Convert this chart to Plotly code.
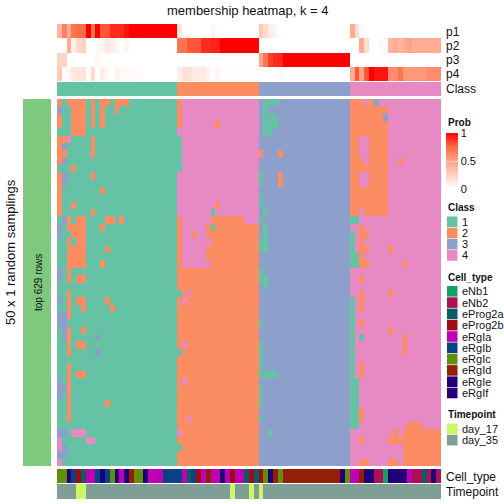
import plotly.graph_objects as go

W = 504
n_cols = 80
n_rows = 50

title = "membership heatmap, k = 4"
class_names = ["1", "2", "3", "4"]
class_colors = ["#66C2A5", "#FC8D62", "#8DA0CB", "#E78AC3"]
cell_types = ["eNb1", "eNb2", "eProg2a", "eProg2b", "eRgIa", "eRgIb", "eRgIc", "eRgId", "eRgIe", "eRgIf"]
cell_colors = ["#169F68", "#AE1056", "#0A5C66", "#A00A14", "#BF00B5", "#0A4285", "#628F08", "#941E0A", "#1E0078", "#270078"]
time_names = ["day_17", "day_35"]
time_colors = ["#CCF763", "#7F9E96"]

# top annotation: probability per column
p1 = [.4,.65,.45,.7,.75,.75,1,.7,1,.8,.8,.9,.9,.9,.95] + [1]*10 + [.15,0,0,0,0,0,0,.05] + [0]*9 + \
     [.3,.2,.1,.05] + [0]*15 + [.45,.18,.03] + [0]*16
p2 = [0,0,.45,.08,.2,.25,0,0,.03,.06,.12,.1,.05,0,.05] + [0]*10 + \
     [.7,.72,.8,.8,.8,.9,.9,.92,.92,1,1,1,1,1,1,1,1] + [0]*19 + \
     [0,0,.45,.18,0,0,.03,.03,.4,.45,.4,.45,.5,.45,.45,.45,.45,.45,.45]
p3 = [.25,.25,0,0,0,0,0,0,.04] + [0]*16 + [0]*17 + \
     [.5,.7,.85,.9,.9] + [1]*14 + [0,0,0,0,0,0,.02,0,.02] + [0]*10
p4 = [.3,.02,.05,.12,.15,.15,.02,.2,0,.1,.03,0,.07,.03,.03] + [.02]*3 + [0]*7 + \
     [.1,.17,.17,.12,.12,.12,.06,0,.05] + [.01]*8 + [0,0,0,0,.04] + [0]*14 + \
     [.45,.8,.5,.8,1,.95,.95,.95,.6,.6,.7,.55,.55,.55,.55,.55,.6,.6,.6]
column_class = [1]*25 + [2]*17 + [3]*19 + [4]*19

# membership matrix: per block, default class and exceptions {row: [(first, last, class)]}
block1_exceptions = {
    0:[(0,0,2),(2,5,2),(7,7,2),(9,10,2),(12,14,2)], 1:[(0,0,3),(3,5,2),(7,7,2),(9,9,2),(12,12,2)],
    2:[(0,0,2),(3,5,2),(7,7,2),(9,9,2)], 3:[(0,0,2),(3,5,2),(7,7,2),(9,9,2)], 4:[(3,5,2)],
    5:[(0,1,2),(2,2,4),(7,7,2)], 6:[(0,0,2),(1,1,3),(7,7,2)], 7:[(0,1,2),(7,7,2)], 8:[(0,0,2),(1,1,3)],
    9:[(3,3,2)], 10:[(0,0,2),(1,1,3),(7,7,2)], 11:[(0,0,2),(1,1,3)], 12:[(0,0,2),(9,9,2)], 13:[(0,0,2)],
    14:[(0,0,2),(3,3,2)], 15:[(0,0,2),(7,7,2)], 16:[(1,1,3),(2,2,2),(4,5,2),(10,11,2),(13,13,2)],
    17:[(0,0,3),(2,5,2),(9,9,2)], 18:[(0,0,3),(3,5,2)], 19:[(2,2,2),(4,5,2)], 20:[(2,5,2),(10,10,2)],
    21:[(2,5,2)], 22:[(2,5,2),(9,9,2)], 23:[(0,0,3),(2,2,2)], 24:[(0,0,3),(2,2,2),(4,5,2)],
    26:[(2,2,2)], 27:[(0,0,3),(2,2,2),(4,5,2),(10,10,2)], 28:[(2,2,2),(5,5,2),(11,11,2)],
    29:[(0,1,3),(2,2,2)], 30:[(0,1,3)], 31:[(1,1,3),(2,2,2),(5,5,2)], 32:[(1,1,3),(2,2,2),(8,8,3)],
    33:[(2,2,2),(4,5,2)], 34:[(2,2,2),(8,8,3)], 36:[(2,2,2)], 37:[(2,2,2),(4,5,2)],
    38:[(0,0,3),(2,2,2)], 39:[(0,1,3),(2,2,2)], 40:[(0,0,3),(2,2,2)], 41:[(2,2,2),(10,10,2)],
    42:[(2,2,2)], 43:[(2,2,2)], 45:[(0,1,3),(3,5,4)], 46:[(0,0,4),(6,7,4)], 47:[(0,0,4),(1,1,3)],
    48:[(0,1,3)], 49:[(0,0,4)],
}
block2_exceptions = {
    0:[(25,25,2)], 1:[(25,25,2)], 2:[(25,25,2)], 3:[(25,25,2),(33,33,2)],
    5:[(25,25,1)], 6:[(25,25,1)], 7:[(25,25,1)], 8:[(25,25,1)], 9:[(25,25,1)],
    14:[(33,33,2)], 15:[(32,32,1)], 16:[(25,25,2),(32,38,2)], 17:[(25,25,2),(31,31,2),(32,32,1),(33,41,2)],
    18:[(25,25,2),(28,28,2),(31,41,2)], 19:[(25,25,2),(32,41,2)], 20:[(25,25,2),(31,41,2)],
    21:[(25,25,2),(31,41,2)], 22:[(25,25,2),(32,41,2)],
    **{r:[(25,41,2)] for r in (23,24,25,28,29,30,31,32,35,36,37,39,40,41,42,44,46,48,49)},
    26:[(25,41,2),(25,25,1),(27,27,4)], 27:[(25,41,2),(26,26,4)], 33:[(25,41,2),(26,26,4)],
    34:[(25,41,2),(25,25,1)], 38:[(25,41,2),(26,26,4)], 43:[(25,41,2),(27,27,4)],
    45:[(25,41,2),(25,25,4)], 47:[(25,41,2),(25,25,1)],
}
block3_exceptions = {
    0:[(43,45,1)], 1:[(43,43,1)], 2:[(43,45,1)], 3:[(43,45,1)], 4:[(43,44,1)], 7:[(42,42,2),(46,46,2)],
    10:[(42,42,1),(46,46,2)], 11:[(42,42,1),(46,46,2)], 13:[(42,42,1)], 14:[(42,42,1)], 15:[(43,43,1)],
    16:[(42,42,1)], 17:[(43,43,1)], 18:[(43,43,1)], 19:[(42,43,1)], 20:[(42,43,1)], 23:[(42,42,1)],
    24:[(42,43,1)], 25:[(43,43,1)], 30:[(42,42,1)], 33:[(42,42,1)], 34:[(42,42,1)], 35:[(42,42,1)],
    36:[(42,42,1)], 37:[(42,45,1)], 39:[(42,42,1)], 40:[(42,42,1)], 41:[(42,42,1)], 43:[(42,42,1)],
    45:[(44,44,1)],
}
block4_exceptions = {
    0:[(61,63,2),(65,65,2),(66,66,3)], 1:[(61,68,2)], 2:[(61,67,2),(68,68,3)], 3:[(61,68,2)], 4:[(61,68,2)],
    5:[(61,62,2),(65,68,2)], 6:[(61,62,2),(65,68,2)], 7:[(61,62,2),(65,68,2)],
    8:[(61,63,2),(65,68,2),(71,71,2)], 9:[(61,68,2)], 10:[(61,62,2),(65,68,2)], 11:[(61,62,2),(65,68,2)],
    12:[(61,68,2)], 13:[(61,68,2)], 14:[(61,68,2)], 15:[(61,62,2),(64,68,2)], 16:[(61,62,1)],
    17:[(63,63,2)], 18:[(61,61,1),(63,64,2)], 19:[(61,61,1),(63,63,2)], 20:[(61,61,1),(63,64,2),(69,69,2)],
    21:[(61,62,1),(63,63,2)], 22:[(61,62,1),(63,64,2),(72,72,2)], 24:[(63,63,2)],
    26:[(63,63,2),(69,69,2)], 27:[(61,61,1),(63,63,2)], 28:[(61,61,1),(63,63,2)], 29:[(61,61,1)],
    30:[(61,61,1),(63,63,2)], 31:[(61,61,1),(69,69,2)], 32:[(61,61,1),(63,63,1),(72,72,2)],
    33:[(61,61,1),(72,72,2)], 34:[(61,61,1),(72,72,2)], 35:[(61,61,1)], 36:[(61,61,1),(63,63,2)],
    37:[(61,61,1),(63,63,2)], 38:[(61,62,1)], 39:[(61,62,1)], 40:[(61,62,1)], 41:[(61,62,1)],
    42:[(61,62,1),(63,63,2)], 43:[(61,62,1),(63,63,2)], 44:[(61,62,1),(73,75,2)],
    45:[(70,70,2),(72,79,2)], 46:[(63,63,2),(69,79,2)], 47:[(72,79,2)], 48:[(72,79,2)],
    49:[(63,64,2),(69,70,2),(72,79,2)],
}
block_defaults = [(0, 24, 1), (25, 41, 4), (42, 60, 3), (61, 79, 4)]

cell_type_runs = [("eRgIc",2),("eRgIf",1),("eRgIb",1),("eProg2b",1),("eProg2a",1),("eRgIa",2),("eRgIb",1),
    ("eRgIe",1),("eRgIb",1),("eRgIc",1),("eRgIe",1),("eRgIa",1),("eRgIe",1),("eRgId",1),("eRgIc",2),("eRgIe",1),
    ("eRgIa",3),("eRgIb",4),("eRgIa",1),("eProg2a",1),("eRgIb",1),("eProg2b",1),("eRgIa",1),("eRgId",1),("eRgIa",2),
    ("eRgIe",1),("eRgIa",1),("eProg2b",1),("eRgIa",2),("eProg2a",1),("eProg2b",1),("eProg2a",1),("eProg2b",1),
    ("eRgIc",1),("eRgIe",1),("eRgId",1),("eRgIc",1),("eRgId",12),("eRgIe",1),("eRgIc",1),("eRgIa",2),("eRgId",1),
    ("eRgIe",2),("eNb2",2),("eNb1",1),("eRgIe",2),("eRgIf",2),("eRgIa",1),("eNb2",2),("eProg2a",1),("eNb2",1),
    ("eRgIe",1),("eNb2",1)]
day17_columns = [4, 5, 36, 40, 42]

# build matrices
matrix = []
for r in range(n_rows):
    row = [0] * n_cols
    for a, b, v in block_defaults:
        for c in range(a, b + 1):
            row[c] = v
    for ex in (block1_exceptions, block2_exceptions, block3_exceptions, block4_exceptions):
        for a, b, v in ex.get(r, []):
            for c in range(a, b + 1):
                row[c] = v
    matrix.append(row)
cell_row = []
for name, count in cell_type_runs:
    cell_row += [cell_types.index(name)] * count
time_row = [0 if c in day17_columns else 1 for c in range(n_cols)]


def discrete(colors):
    n = len(colors)
    out = []
    for i, col in enumerate(colors):
        out += [[i / n, col], [(i + 1) / n, col]]
    return out


def px_x(x):
    return x / W


def px_y(y):
    return 1 - y / W


prob_scale = [[0, "#FFFFFF"], [.25, "#FFD2C3"], [.5, "#FFA388"], [.75, "#FF6A47"], [1, "#FF0000"]]
cols = list(range(n_cols))
fig = go.Figure()
X0, X1 = 57, 441
panels = [(24, 81), (82, 96), (99, 466), (469, 483), (484, 499)]
layout_axes = {}
for i, (top, bottom) in enumerate(panels):
    s = "" if i == 0 else str(i + 1)
    layout_axes["xaxis" + s] = dict(domain=[px_x(X0), px_x(X1)], range=[-.5, n_cols - .5], visible=False, anchor="y" + s)
    layout_axes["yaxis" + s] = dict(domain=[px_y(bottom), px_y(top)], autorange="reversed", visible=False, anchor="x" + s)

fig.add_trace(go.Heatmap(z=[p1, p2, p3, p4], x=cols, y=[0, 1, 2, 3], colorscale=prob_scale, zmin=0, zmax=1,
    xaxis="x", yaxis="y", hoverinfo="skip",
    colorbar=dict(x=px_x(446), xanchor="left", y=px_y(133), yanchor="top", thicknessmode="pixels", thickness=12,
                  lenmode="pixels", len=56, outlinewidth=0, tickvals=[0, .5, 1], ticktext=["0", "0.5", "1"],
                  ticks="inside", ticklen=12, tickcolor="rgba(255,255,255,0.45)", xpad=0, ypad=0,
                  tickfont=dict(size=11, family="Liberation Sans", color="#111"))))
fig.add_trace(go.Heatmap(z=[column_class], x=cols, colorscale=discrete(class_colors), zmin=.5, zmax=4.5,
    xaxis="x2", yaxis="y2", showscale=False, hoverinfo="skip"))
fig.add_trace(go.Heatmap(z=matrix, x=cols, y=list(range(n_rows)), colorscale=discrete(class_colors), zmin=.5, zmax=4.5,
    xaxis="x3", yaxis="y3", showscale=False, hoverinfo="skip"))
fig.add_trace(go.Heatmap(z=[cell_row], x=cols, colorscale=discrete(cell_colors), zmin=-.5, zmax=9.5,
    xaxis="x4", yaxis="y4", showscale=False, hoverinfo="skip"))
fig.add_trace(go.Heatmap(z=[time_row], x=cols, colorscale=discrete(time_colors), zmin=-.5, zmax=1.5,
    xaxis="x5", yaxis="y5", showscale=False, hoverinfo="skip"))

FONT = "Liberation Sans"
annotations = []
shapes = []


def text(x, y, s, size=11, anchor="left", angle=0, weight=None):
    t = f"<b>{s}</b>" if weight else s
    annotations.append(dict(x=px_x(x), y=px_y(y), xref="paper", yref="paper", text=t, showarrow=False,
                            xanchor=anchor, yanchor="middle", textangle=angle,
                            font=dict(size=size, family=FONT, color="#111"), borderpad=0))


def swatch(x0, y0, x1, y1, color):
    shapes.append(dict(type="rect", xref="paper", yref="paper", x0=px_x(x0), x1=px_x(x1), y0=px_y(y1), y1=px_y(y0),
                       fillcolor=color, line=dict(width=0), layer="below"))


text(248, 10, title, size=13, anchor="center")
for lab, y in zip(["p1", "p2", "p3", "p4", "Class"], [32, 46, 60, 74, 89]):
    text(444.5, y, lab, size=12)
text(445, 477, "Cell_type", size=12)
text(445, 492, "Timepoint", size=12)
text(10, 252, "50 x 1 random samplings", size=13, anchor="center", angle=-90)
text(38, 283, "top 629 rows", size=10, anchor="center", angle=-90)
swatch(23, 99, 51, 466, "#7FC97F")

text(447, 122, "Prob", size=10, weight=True)
text(447, 207, "Class", size=10, weight=True)
for i, (n, c) in enumerate(zip(class_names, class_colors)):
    y0 = 216.5 + 11.2 * i
    swatch(447, y0, 457.5, y0 + 10.6, c)
    text(461, y0 + 5.3, n, size=11)
text(447, 277, "Cell_type", size=10, weight=True)
for i, (n, c) in enumerate(zip(cell_types, cell_colors)):
    y0 = 286 + 11.3 * i
    swatch(447, y0, 457.5, y0 + 10.6, c)
    text(461, y0 + 5.3, n, size=11)
text(447, 414, "Timepoint", size=10, weight=True)
for i, (n, c) in enumerate(zip(time_names, time_colors)):
    y0 = 423.5 + 11.3 * i
    swatch(447, y0, 457.5, y0 + 10.6, c)
    text(461, y0 + 5.3, n, size=11)

fig.update_layout(width=W, height=W, margin=dict(l=0, r=0, t=0, b=0), paper_bgcolor="white", plot_bgcolor="white",
                  annotations=annotations, shapes=shapes, showlegend=False, **layout_axes)
fig.write_html("out.html", config=dict(displayModeBar=False),
               post_script="document.body.style.margin='0';document.body.style.overflow='hidden';")
